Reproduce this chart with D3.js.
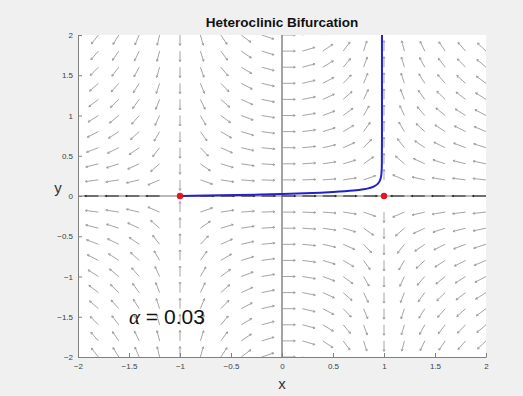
<!DOCTYPE html>
<html>
<head>
<meta charset="utf-8">
<script src="https://cdn.jsdelivr.net/npm/d3@7"></script>
<style>
  body { margin: 0; background: #f0f0f0; }
  svg { display: block; font-family: "Liberation Sans", Arial, sans-serif; }
</style>
</head>
<body>
<svg id="chart" width="523" height="396"></svg>
<script>
// axis ticks
const xTicks = [-2, -1.5, -1, -0.5, 0, 0.5, 1, 1.5, 2];
const yTicks = [-2, -1.5, -1, -0.5, 0, 0.5, 1, 1.5, 2];
const gridX = [-2, -1.8, -1.6, -1.4, -1.2, -1, -0.8, -0.6, -0.4, -0.2, 0, 0.2, 0.4, 0.6, 0.8, 1, 1.2, 1.4, 1.6, 1.8, 2];
const gridY = gridX.slice();
// trajectory (blue)
const trajX = [-1, -0.6, -0.2, 0, 0.3, 0.5, 0.7, 0.8, 0.86, 0.91, 0.945, 0.965, 0.975, 0.979, 0.98, 0.98, 0.98];
const trajY = [0, 0.008, 0.018, 0.024, 0.036, 0.05, 0.068, 0.083, 0.1, 0.125, 0.16, 0.21, 0.28, 0.4, 0.7, 1.2, 2];
// equilibria
const eqX = [-1, 1];
const eqY = [0, 0];
const alpha = 0.03;

const svg = d3.select("#chart");
const margin = { left: 78, top: 35, right: 37, bottom: 39 };
const width = 523 - margin.left - margin.right;
const height = 396 - margin.top - margin.bottom;

const x = d3.scaleLinear().domain([-2, 2]).range([margin.left, margin.left + width]);
const y = d3.scaleLinear().domain([-2, 2]).range([margin.top + height, margin.top]);

svg.append("defs").append("clipPath").attr("id", "clip")
  .append("rect").attr("x", margin.left).attr("y", margin.top)
  .attr("width", width).attr("height", height);

// white plot area
svg.append("rect")
  .attr("x", margin.left).attr("y", margin.top)
  .attr("width", width).attr("height", height)
  .attr("fill", "#fff");

const plot = svg.append("g").attr("clip-path", "url(#clip)");

// vertical line x = 0, horizontal y = 0
plot.append("line")
  .attr("x1", x(0)).attr("x2", x(0)).attr("y1", y(-2)).attr("y2", y(2))
  .attr("stroke", "#666").attr("stroke-width", 1.2);
plot.append("line")
  .attr("x1", x(-2)).attr("x2", x(2)).attr("y1", y(0)).attr("y2", y(0))
  .attr("stroke", "#777").attr("stroke-width", 1);

// quiver arrows, normalised direction
const len = 0.13;
const arrows = [];
gridX.forEach(gx => {
  gridY.forEach(gy => {
    const u = 1 - gx * gx, v = gx * gy;
    const m = Math.hypot(u, v);
    if (m < 1e-9) return;
    arrows.push({ x0: gx, y0: gy, x1: gx + len * u / m, y1: gy + len * v / m });
  });
});

const ag = plot.append("g")
  .attr("stroke", "#9a9a9a").attr("stroke-width", 0.9).attr("fill", "none");
arrows.forEach(a => {
  const px0 = x(a.x0), py0 = y(a.y0), px1 = x(a.x1), py1 = y(a.y1);
  const ang = Math.atan2(py1 - py0, px1 - px0);
  const onAxis = a.y0 === 0;
  const h = onAxis ? 1.5 : 2.2, spread = 0.5;
  const path = d3.path();
  path.moveTo(px0, py0); path.lineTo(px1, py1);
  path.moveTo(px1 - h * Math.cos(ang - spread), py1 - h * Math.sin(ang - spread));
  path.lineTo(px1, py1);
  path.lineTo(px1 - h * Math.cos(ang + spread), py1 - h * Math.sin(ang + spread));
  const p = ag.append("path").attr("d", path.toString());
  if (onAxis) p.attr("stroke", "#222").attr("stroke-width", 1.1);
});

// trajectory
const traj = trajX.map((d, i) => [d, trajY[i]]);
plot.append("path")
  .datum(traj)
  .attr("d", d3.line().x(d => x(d[0])).y(d => y(d[1])).curve(d3.curveMonotoneY))
  .attr("fill", "none").attr("stroke", "#2222c8").attr("stroke-width", 2);

// equilibria
plot.selectAll("circle.eq")
  .data(eqX.map((d, i) => [d, eqY[i]]))
  .enter().append("circle")
  .attr("cx", d => x(d[0])).attr("cy", d => y(d[1]))
  .attr("r", 3.2).attr("fill", "#e8141e");

// axes (left + bottom only)
const xAxis = svg.append("g")
  .attr("transform", "translate(0," + (margin.top + height) + ")")
  .call(d3.axisBottom(x).tickValues(xTicks).tickSizeInner(-4).tickSizeOuter(0).tickPadding(6)
    .tickFormat(d3.format("")));
const yAxis = svg.append("g")
  .attr("transform", "translate(" + margin.left + ",0)")
  .call(d3.axisLeft(y).tickValues(yTicks).tickSizeInner(-4).tickSizeOuter(0).tickPadding(5)
    .tickFormat(d3.format("")));
[xAxis, yAxis].forEach(a => {
  a.select(".domain").attr("stroke", "#808080");
  a.selectAll(".tick line").attr("stroke", "#808080");
  a.selectAll(".tick text").attr("fill", "#404040").style("font-size", "8px")
    .style("font-family", "'Liberation Sans', Arial, sans-serif");
});

// title and labels
svg.append("text")
  .attr("x", x(0)).attr("y", 27)
  .attr("text-anchor", "middle")
  .style("font-size", "13.5px").style("font-weight", "bold")
  .attr("fill", "#111")
  .text("Heteroclinic Bifurcation");
svg.append("text")
  .attr("x", x(0)).attr("y", 389)
  .attr("text-anchor", "middle")
  .style("font-size", "15px").attr("fill", "#333")
  .text("x");
svg.append("text")
  .attr("x", 58).attr("y", 193)
  .attr("text-anchor", "middle")
  .style("font-size", "15px").attr("fill", "#333")
  .text("y");

// alpha annotation
const ann = svg.append("text")
  .attr("x", x(-1.5)).attr("y", y(-1.5))
  .attr("dy", "0.35em")
  .style("font-size", "21px").attr("fill", "#111");
ann.append("tspan").style("font-family", "'Liberation Serif', 'DejaVu Serif', serif")
  .style("font-style", "italic").text("α");
ann.append("tspan").text(" = " + alpha.toFixed(2));
</script>
</body>
</html>
